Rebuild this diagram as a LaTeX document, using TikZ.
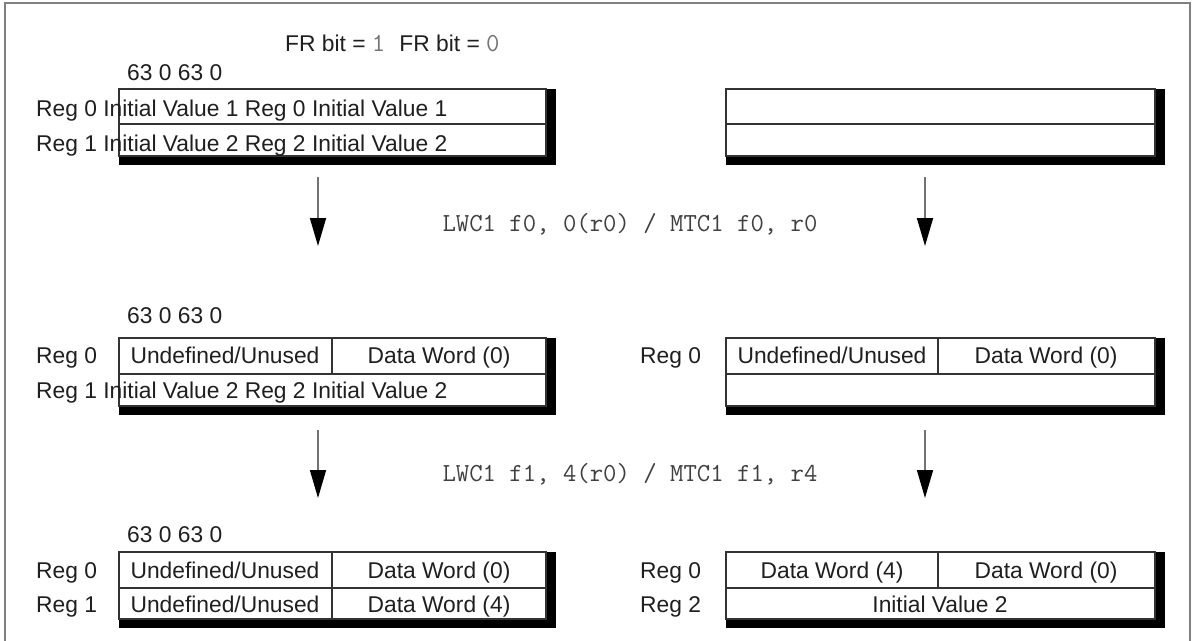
\documentclass[tikz,border=0pt]{standalone}
\usepackage{fontspec}
\setmainfont{Liberation Sans}
\usetikzlibrary{arrows.meta}
\begin{document}
\begin{tikzpicture}[x=1pt,y=-1pt,
  txt/.style={font=\fontsize{22.8}{27}\selectfont, text=black!88, inner sep=0pt, anchor=base west},
  ctxt/.style={font=\fontsize{22.8}{27}\selectfont, text=black!88, inner sep=0pt, anchor=base},
  monotxt/.style={font=\ttfamily\fontsize{26}{30}\selectfont, text=black!75, inner sep=0pt, anchor=base},
  cellline/.style={draw=black!80, line width=1.3pt},
  shade/.style={fill=black},
  frameline/.style={draw=black!50, line width=2pt},
  flow/.style={draw=black!55, line width=1.6pt, -{Triangle[length=28pt,width=16pt,color=black]}}
]
\useasboundingbox (0,0) rectangle (1193,640);
\fill[white] (0,0) rectangle (1193,640);
% frame
\draw[frameline] (5,645) -- (5,3) -- (1190,3) -- (1190,645);

% header
\node[txt] (fr) at (285,51) {FR bit = {\ttfamily\fontsize{26}{30}\selectfont\color{black!55}1}\hspace{14pt}FR bit = {\ttfamily\fontsize{26}{30}\selectfont\color{black!55}0}};

% ---------- row 1 ----------
\node[txt] (b1) at (127,80) {63 0 63 0};
% left box
\fill[shade] (545,89) rectangle (556,165);
\fill[shade] (119,155) rectangle (556,165);
\draw[cellline] (119,89) rectangle (546,156);
\draw[cellline] (119,124) -- (546,124);
\node[txt] (l1a) at (36,116) {Reg 0 Initial Value 1 Reg 0 Initial Value 1};
\node[txt] (l1b) at (36,151) {Reg 1 Initial Value 2 Reg 2 Initial Value 2};
% right box
\fill[shade] (1154,89) rectangle (1165,165);
\fill[shade] (726,155) rectangle (1165,165);
\draw[cellline] (726,89) rectangle (1155,156);
\draw[cellline] (726,124) -- (1155,124);

% arrows 1
\coordinate (a1s) at (318,177);
\coordinate (a1e) at (318,246);
\coordinate (a2s) at (925,177);
\coordinate (a2e) at (925,246);
\draw[flow] (a1s) -- (a1e);
\draw[flow] (a2s) -- (a2e);
\node[monotxt] (op1) at (630,231) {LWC1 f0, 0(r0) / MTC1 f0, r0};

% ---------- row 2 ----------
\node[txt] (b2) at (127,323) {63 0 63 0};
\fill[shade] (545,338) rectangle (556,415);
\fill[shade] (119,405) rectangle (556,415);
\draw[cellline] (119,338) rectangle (546,406);
\draw[cellline] (119,374) -- (546,374);
\draw[cellline] (332,338) -- (332,374);
\node[txt] (l2r0) at (36,363) {Reg 0};
\node[ctxt] (l2u) at (225,363) {Undefined/Unused};
\node[ctxt] (l2d) at (439,363) {Data Word (0)};
\node[txt] (l2b) at (36,398) {Reg 1 Initial Value 2 Reg 2 Initial Value 2};

\fill[shade] (1154,338) rectangle (1165,415);
\fill[shade] (726,405) rectangle (1165,415);
\draw[cellline] (726,338) rectangle (1155,406);
\draw[cellline] (726,374) -- (1155,374);
\draw[cellline] (938,338) -- (938,374);
\node[txt] (r2r0) at (640,363) {Reg 0};
\node[ctxt] (r2u) at (832,363) {Undefined/Unused};
\node[ctxt] (r2d) at (1046,363) {Data Word (0)};

% arrows 2
\coordinate (a3s) at (318,430);
\coordinate (a3e) at (318,498);
\coordinate (a4s) at (925,430);
\coordinate (a4e) at (925,498);
\draw[flow] (a3s) -- (a3e);
\draw[flow] (a4s) -- (a4e);
\node[monotxt] (op2) at (630,481) {LWC1 f1, 4(r0) / MTC1 f1, r4};

% ---------- row 3 ----------
\node[txt] (b3) at (127,542) {63 0 63 0};
\fill[shade] (545,552) rectangle (556,628);
\fill[shade] (119,618) rectangle (556,628);
\draw[cellline] (119,552) rectangle (546,619);
\draw[cellline] (119,588) -- (546,588);
\draw[cellline] (332,552) -- (332,619);
\node[txt] (l3r0) at (36,578) {Reg 0};
\node[txt] (l3r1) at (36,612) {Reg 1};
\node[ctxt] (l3u0) at (225,578) {Undefined/Unused};
\node[ctxt] (l3d0) at (439,578) {Data Word (0)};
\node[ctxt] (l3u1) at (225,612) {Undefined/Unused};
\node[ctxt] (l3d1) at (439,612) {Data Word (4)};

\fill[shade] (1154,552) rectangle (1165,628);
\fill[shade] (726,618) rectangle (1165,628);
\draw[cellline] (726,552) rectangle (1155,619);
\draw[cellline] (726,588) -- (1155,588);
\draw[cellline] (938,552) -- (938,588);
\node[txt] (r3r0) at (640,578) {Reg 0};
\node[txt] (r3r2) at (640,612) {Reg 2};
\node[ctxt] (r3d4) at (832,578) {Data Word (4)};
\node[ctxt] (r3d0) at (1046,578) {Data Word (0)};
\node[ctxt] (r3iv) at (940,612) {Initial Value 2};
\end{tikzpicture}
\end{document}
